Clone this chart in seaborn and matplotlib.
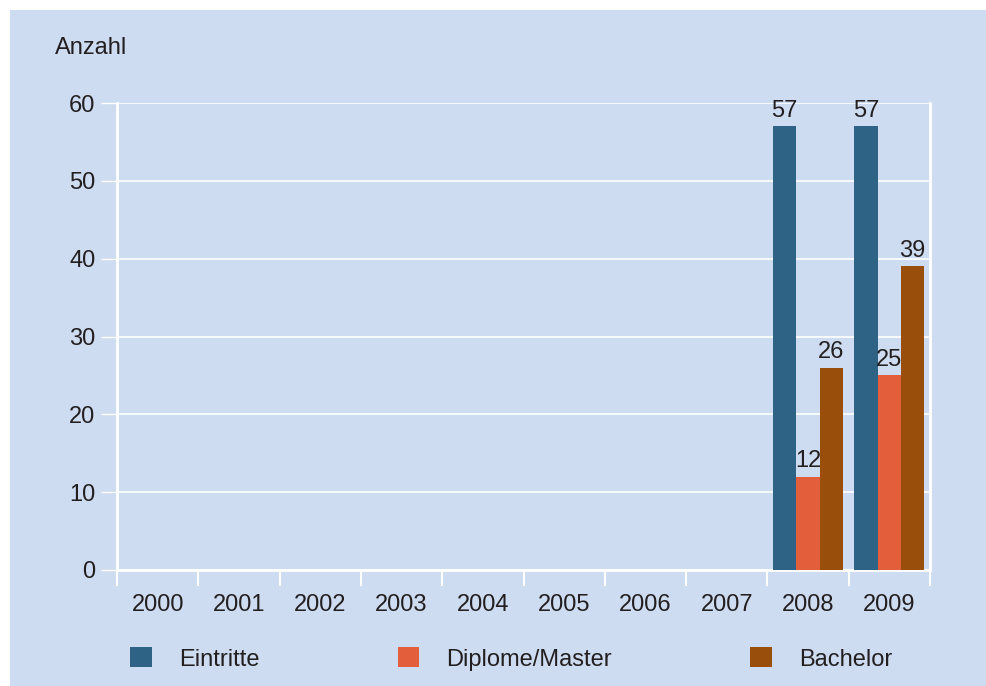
import matplotlib
matplotlib.use("Agg")
import matplotlib.pyplot as plt
import matplotlib.patches as mpatches
import seaborn as sns
import pandas as pd
import numpy as np

years = ["2000", "2001", "2002", "2003", "2004", "2005", "2006", "2007", "2008", "2009"]
series = ["Eintritte", "Diplome/Master", "Bachelor"]
eintritte = [0, 0, 0, 0, 0, 0, 0, 0, 57, 57]
diplome = [0, 0, 0, 0, 0, 0, 0, 0, 12, 25]
bachelor = [0, 0, 0, 0, 0, 0, 0, 0, 26, 39]
colors = ["#2e6386", "#e35e3b", "#994e0b"]

df = pd.DataFrame({
    "Jahr": years * 3,
    "Serie": [series[0]] * 10 + [series[1]] * 10 + [series[2]] * 10,
    "Anzahl": eintritte + diplome + bachelor,
})

BG = "#cddcf0"
TXT = "#231f20"
sns.set_theme(style="white")
plt.rcParams["font.family"] = ["Liberation Sans", "DejaVu Sans"]
plt.rcParams["text.color"] = TXT

fig = plt.figure(figsize=(9.87, 6.86), dpi=100, facecolor="white")
fig.patches.append(mpatches.Rectangle((10 / 987, 0), 1, 1 - 10 / 686,
                                      transform=fig.transFigure, facecolor=BG,
                                      edgecolor="none", zorder=-10))
W, H = 987, 686
ax = fig.add_axes([117 / W, 1 - 570 / H, (930 - 117) / W, (570 - 103) / H])
ax.set_facecolor(BG)

sns.barplot(data=df, x="Jahr", y="Anzahl", hue="Serie", palette=colors,
            width=0.86, saturation=1, ax=ax, legend=False, zorder=3,
            linewidth=0, edgecolor="none")

fs = 17
for cont in ax.containers:
    labels = [f"{int(v)}" if v > 0 else "" for v in cont.datavalues]
    ax.bar_label(cont, labels=labels, padding=3, fontsize=fs, color=TXT)

ax.set_ylim(0, 60)
ax.set_xlim(-0.5, 9.5)
ax.set_yticks(range(0, 61, 10))
ax.yaxis.grid(True, color="white", linewidth=1.2, zorder=0)
ax.set_axisbelow(True)
ax.set_xlabel("")
ax.set_ylabel("")

for s in ["left", "bottom", "right"]:
    ax.spines[s].set_visible(True)
    ax.spines[s].set_color("white")
    ax.spines[s].set_linewidth(2)
ax.spines["top"].set_visible(False)

ax.tick_params(axis="y", length=11.5, width=1, color="white", pad=4,
               labelsize=fs, labelcolor=TXT, left=True)
ax.set_xticks(np.arange(10))
ax.set_xticklabels(years)
ax.tick_params(axis="x", which="major", length=0, pad=17, labelsize=fs, labelcolor=TXT)
ax.set_xticks(np.arange(-0.5, 10, 1), minor=True)
ax.tick_params(axis="x", which="minor", length=11.5, width=1.5, color="white", bottom=True)

fig.text(55 / W, 1 - 48 / H, "Anzahl", fontsize=fs, color=TXT, ha="left", va="center")

handles = [mpatches.Patch(facecolor=c, edgecolor="none") for c in colors]
fig.legend(handles, series, loc="center left", bbox_to_anchor=(130 / W, 1 - 659 / H),
           ncol=3, frameon=False, fontsize=fs, handlelength=0.93, handleheight=0.93,
           handletextpad=1.14, columnspacing=5.85, borderpad=0, borderaxespad=0)

fig.savefig("out.png", dpi=100, facecolor=fig.get_facecolor())
